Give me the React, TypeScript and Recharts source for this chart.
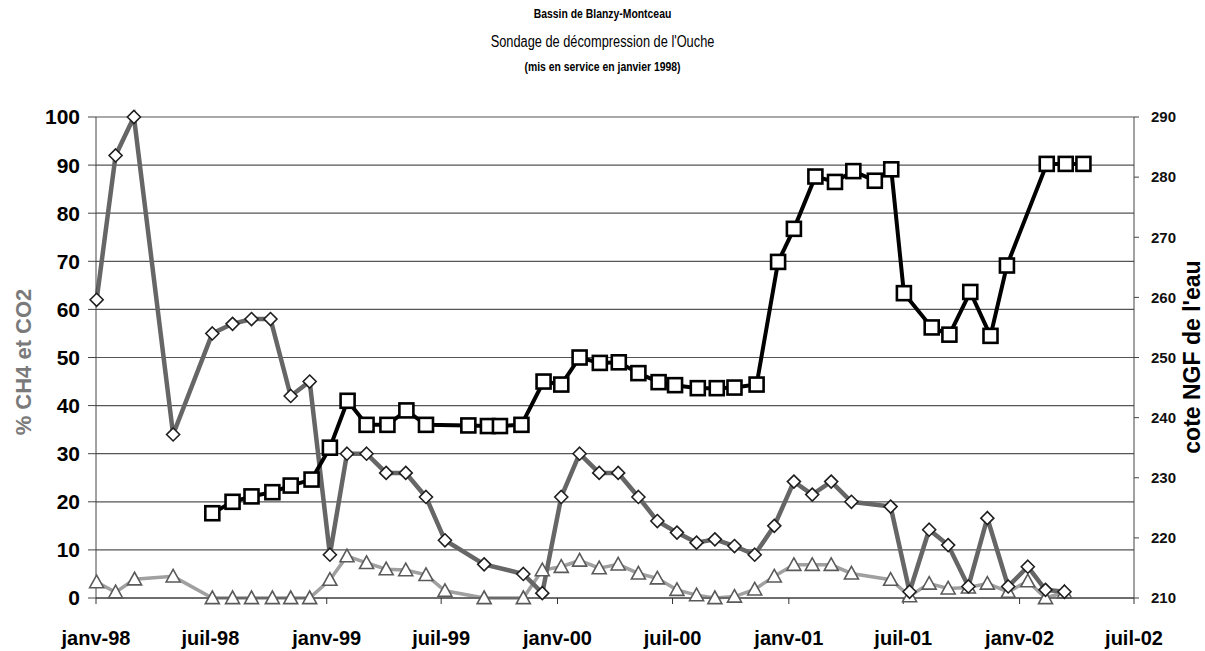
import { CartesianGrid, Line, LineChart, XAxis, YAxis } from "recharts";

// sampling dates and values
const ch4Dates = [
  "1998-01-02", "1998-02-01", "1998-03-02", "1998-05-03", "1998-07-04", "1998-08-05",
  "1998-09-04", "1998-10-04", "1998-11-05", "1998-12-05", "1999-01-06", "1999-02-02",
  "1999-03-05", "1999-04-05", "1999-05-06", "1999-06-07", "1999-07-07", "1999-09-07",
  "1999-11-08", "1999-12-08", "2000-01-07", "2000-02-05", "2000-03-07", "2000-04-06",
  "2000-05-08", "2000-06-07", "2000-07-08", "2000-08-08", "2000-09-06", "2000-10-07",
  "2000-11-08", "2000-12-09", "2001-01-09", "2001-02-07", "2001-03-09", "2001-04-10",
  "2001-06-11", "2001-07-11", "2001-08-11", "2001-09-10", "2001-10-12", "2001-11-11",
  "2001-12-14", "2002-01-14", "2002-02-11", "2002-03-13",
];
const ch4Values = [
  62, 92, 100, 34, 55, 57, 58, 58, 42, 45, 9, 30, 30, 26, 26, 21, 12, 7, 5, 1, 21, 30, 26,
  26, 21, 16, 13.6, 11.5, 12.2, 10.8, 9, 15, 24.2, 21.5, 24.2, 20, 19, 1.3, 14.2, 11, 2.4,
  16.6, 2.4, 6.5, 1.7, 1.3,
];

const co2Dates = [
  "1998-01-02", "1998-02-01", "1998-03-03", "1998-05-03", "1998-07-04", "1998-08-05",
  "1998-09-04", "1998-10-07", "1998-11-05", "1998-12-05", "1999-01-06", "1999-02-02",
  "1999-03-05", "1999-04-05", "1999-05-06", "1999-06-07", "1999-07-07", "1999-09-07",
  "1999-11-08", "1999-12-08", "2000-01-07", "2000-02-05", "2000-03-07", "2000-04-06",
  "2000-05-08", "2000-06-07", "2000-07-08", "2000-08-08", "2000-09-06", "2000-10-07",
  "2000-11-08", "2000-12-09", "2001-01-09", "2001-02-07", "2001-03-09", "2001-04-10",
  "2001-06-11", "2001-07-11", "2001-08-11", "2001-09-10", "2001-10-12", "2001-11-11",
  "2001-12-14", "2002-01-14", "2002-02-11", "2002-03-13",
];
const co2Values = [
  3.3, 1.2, 3.9, 4.5, 0, 0, 0, 0, 0, 0, 3.8, 8.7, 7.3, 6, 5.8, 4.8, 1.5, 0, 0, 5.8, 6.5,
  7.8, 6.2, 7, 5.1, 4.1, 1.7, 0.6, 0, 0.3, 1.8, 4.5, 6.9, 6.9, 6.9, 5.1, 3.8, 0.4, 3, 2,
  2.2, 3, 1.3, 3.5, 0, 1.2,
];

const niveauDates = [
  "1998-07-04", "1998-08-05", "1998-09-04", "1998-10-07", "1998-11-05", "1998-12-08",
  "1999-01-06", "1999-02-03", "1999-03-05", "1999-04-07", "1999-05-07", "1999-06-07",
  "1999-08-13", "1999-09-13", "1999-10-02", "1999-11-05", "1999-12-10", "2000-01-07",
  "2000-02-05", "2000-03-08", "2000-04-07", "2000-05-08", "2000-06-09", "2000-07-05",
  "2000-08-10", "2000-09-09", "2000-10-07", "2000-11-11", "2000-12-15", "2001-01-09",
  "2001-02-12", "2001-03-15", "2001-04-13", "2001-05-17", "2001-06-12", "2001-07-02",
  "2001-08-15", "2001-09-12", "2001-10-15", "2001-11-16", "2001-12-12", "2002-02-13",
  "2002-03-15", "2002-04-12",
];
const niveauValues = [
  224.1, 226, 226.9, 227.6, 228.7, 229.7, 235, 242.8, 238.8, 238.8, 241.2, 238.8, 238.7,
  238.6, 238.6, 238.8, 246, 245.5, 250, 249.1, 249.2, 247.4, 245.9, 245.4, 244.9, 244.9,
  245, 245.5, 265.9, 271.4, 280.1, 279.2, 281, 279.4, 281.3, 260.7, 255, 253.8, 260.9,
  253.6, 265.3, 282.2, 282.2, 282.2,
];

const xTickDates = [
  "1998-01-01", "1998-07-01", "1999-01-01", "1999-07-01", "2000-01-01",
  "2000-07-01", "2001-01-01", "2001-07-01", "2002-01-01", "2002-07-01",
];
const xTickLabels = [
  "janv-98", "juil-98", "janv-99", "juil-99", "janv-00",
  "juil-00", "janv-01", "juil-01", "janv-02", "juil-02",
];
const leftTicks = [0, 10, 20, 30, 40, 50, 60, 70, 80, 90, 100];
const rightTicks = [210, 220, 230, 240, 250, 260, 270, 280, 290];

const DAY0 = Date.UTC(1998, 0, 1);
function toDay(iso: string): number {
  const [y, m, d] = iso.split("-").map(Number);
  return (Date.UTC(y, m - 1, d) - DAY0) / 86400000;
}

const xTicks = xTickDates.map(toDay);
const tickLabel = (v: number) => xTickLabels[xTicks.indexOf(v)] ?? "";

const ch4Data = ch4Dates.map((d, i) => ({ t: toDay(d), v: ch4Values[i] }));
const co2Data = co2Dates.map((d, i) => ({ t: toDay(d), v: co2Values[i] }));
const niveauData = niveauDates.map((d, i) => ({ t: toDay(d), v: niveauValues[i] }));

const FONT = "'Liberation Sans', Arial, sans-serif";

function DiamondDot(p: any) {
  const { cx, cy, index } = p;
  if (cx == null || cy == null) return <g key={`d${index}`} />;
  const r = 6.5;
  return (
    <path
      key={`d${index}`}
      d={`M${cx},${cy - r}L${cx + r},${cy}L${cx},${cy + r}L${cx - r},${cy}Z`}
      fill="#fff"
      stroke="#1e1e1e"
      strokeWidth={1.6}
    />
  );
}

function SquareDot(p: any) {
  const { cx, cy, index } = p;
  if (cx == null || cy == null) return <g key={`s${index}`} />;
  const r = 7;
  return (
    <rect
      key={`s${index}`}
      x={cx - r}
      y={cy - r}
      width={2 * r}
      height={2 * r}
      fill="#fff"
      stroke="#000"
      strokeWidth={2.6}
    />
  );
}

function TriangleDot(p: any) {
  const { cx, cy, index } = p;
  if (cx == null || cy == null) return <g key={`t${index}`} />;
  const r = 7;
  return (
    <path
      key={`t${index}`}
      d={`M${cx},${cy - r}L${cx + r},${cy + r * 0.8}L${cx - r},${cy + r * 0.8}Z`}
      fill="#fff"
      stroke="#5a5a5a"
      strokeWidth={1.6}
    />
  );
}

export default function App() {
  return (
    <div
      style={{
        position: "absolute",
        left: 0,
        top: 0,
        width: 1205,
        height: 651,
        background: "#fff",
        fontFamily: FONT,
      }}
    >
      <div style={{ position: "absolute", left: 0, width: 1205, top: 6, textAlign: "center" }}>
        <div style={{ fontSize: 13, fontWeight: "bold", transform: "scaleX(0.8)", lineHeight: "16px" }}>
          Bassin de Blanzy-Montceau
        </div>
        <div style={{ fontSize: 16, transform: "scaleX(0.8)", lineHeight: "18px", marginTop: 11 }}>
          Sondage de décompression de l'Ouche
        </div>
        <div style={{ fontSize: 13, fontWeight: "bold", transform: "scaleX(0.8)", lineHeight: "15px", marginTop: 8 }}>
          (mis en service en janvier 1998)
        </div>
      </div>

      <div
        style={{
          position: "absolute",
          left: 24,
          top: 362,
          transform: "translate(-50%, -50%) rotate(-90deg)",
          whiteSpace: "nowrap",
          fontSize: 22,
          fontWeight: "bold",
          color: "#7a7a7a",
        }}
      >
        % CH4 et CO2
      </div>
      <div
        style={{
          position: "absolute",
          left: 1192,
          top: 357,
          transform: "translate(-50%, -50%) rotate(-90deg)",
          whiteSpace: "nowrap",
          fontSize: 23,
          fontWeight: "bold",
          color: "#000",
        }}
      >
        cote NGF de l'eau
      </div>

      <LineChart
        width={1205}
        height={651}
        margin={{ top: 117, right: 0, bottom: 0, left: 0 }}
        style={{ position: "absolute", left: 0, top: 0 }}
      >
        <CartesianGrid yAxisId="left" vertical={false} stroke="#555" strokeWidth={1.2} />
        <XAxis
          type="number"
          dataKey="t"
          domain={[xTicks[0], xTicks[xTicks.length - 1]]}
          ticks={xTicks}
          tickFormatter={tickLabel}
          interval={0}
          height={53}
          tickSize={6}
          tickMargin={27}
          stroke="#333"
          tick={{ fill: "#000", fontSize: 20, fontWeight: "bold", fontFamily: FONT }}
        />
        <YAxis
          yAxisId="left"
          domain={[0, 100]}
          ticks={leftTicks}
          interval={0}
          width={96}
          tickSize={8}
          tickMargin={8}
          stroke="#444"
          tick={{ fill: "#000", fontSize: 21, fontWeight: "bold", fontFamily: FONT }}
        />
        <YAxis
          yAxisId="right"
          orientation="right"
          domain={[210, 290]}
          ticks={rightTicks}
          interval={0}
          width={71}
          tickSize={5}
          tickMargin={12}
          stroke="#444"
          tick={{ fill: "#111", fontSize: 15, fontWeight: "bold", fontFamily: FONT }}
        />
        <Line
          yAxisId="left"
          data={co2Data}
          dataKey="v"
          stroke="#a0a0a0"
          strokeWidth={3.5}
          dot={TriangleDot}
          activeDot={false}
          isAnimationActive={false}
        />
        <Line
          yAxisId="left"
          data={ch4Data}
          dataKey="v"
          stroke="#666"
          strokeWidth={4.5}
          dot={DiamondDot}
          activeDot={false}
          isAnimationActive={false}
        />
        <Line
          yAxisId="right"
          data={niveauData}
          dataKey="v"
          stroke="#000"
          strokeWidth={4}
          dot={SquareDot}
          activeDot={false}
          isAnimationActive={false}
        />
      </LineChart>
    </div>
  );
}
